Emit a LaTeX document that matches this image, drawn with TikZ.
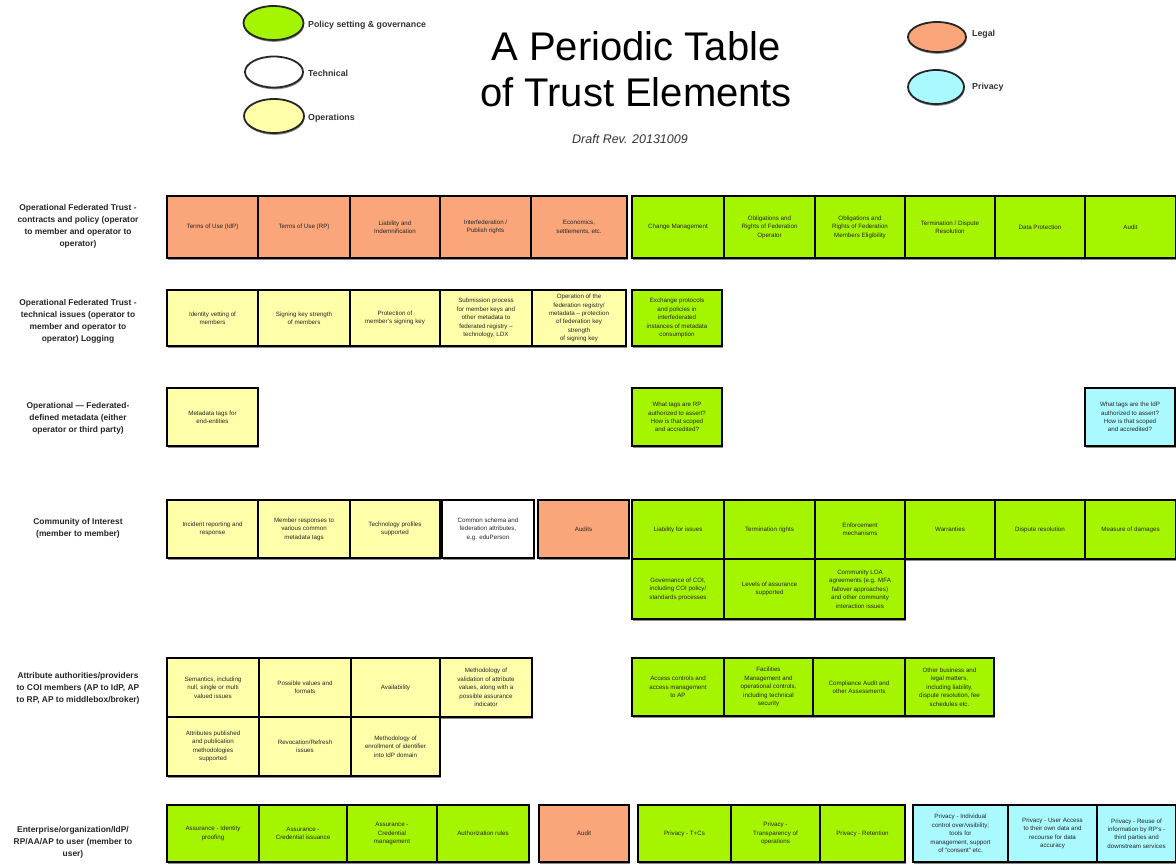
\documentclass[tikz,border=0pt]{standalone}
\usepackage{fontspec}
\setmainfont{Liberation Sans}
\usetikzlibrary{shapes.geometric,shadows}
\definecolor{pgreen}{RGB}{166,245,0}
\definecolor{plegal}{RGB}{250,166,122}
\definecolor{pyellow}{RGB}{255,255,170}
\definecolor{pcyan}{RGB}{170,249,255}
\newcommand\tcell[7]{%
  \pgfmathsetmacro\tcw{#4-#2}%
  \pgfmathsetmacro\tch{#5-#3}%
  \node[cellbox,fill=#6,minimum width=\tcw pt,minimum height=\tch pt] (#1) at ({(#2+#4)/2},{(#3+#5)/2}) {#7};}
\tikzset{
  cellbox/.style={draw=black, line width=1.5pt, inner sep=1pt, align=center,
    font=\fontsize{6.2}{8.4}\selectfont, text=black!85,
    drop shadow={shadow xshift=0.6pt,shadow yshift=-1.8pt,opacity=0.45,fill=black}},
  legendell/.style={ellipse, draw=black!85, line width=1.8pt, minimum width=60pt, minimum height=34pt,
    drop shadow={shadow xshift=0.6pt,shadow yshift=-1.8pt,opacity=0.45,fill=black}},
  legendtxt/.style={anchor=west, inner sep=0pt, font=\bfseries\fontsize{8.8}{10}\selectfont, text=black!80},
  rowlabel/.style={align=center, font=\bfseries\fontsize{8.4}{12}\selectfont, text=black!85}
}
\begin{document}
\begin{tikzpicture}[x=1pt,y=-1pt]
\useasboundingbox[fill=white] (0,0) rectangle (1176,863);
% legend
\node[legendell, fill=pgreen] (lg) at (273.5,23) {};
\node[legendell, fill=white, minimum width=58pt, minimum height=31pt] (lt) at (274,72) {};
\node[legendell, fill=pyellow] (ly) at (274,116) {};
\node[legendtxt] (lgt) at (308,25) {Policy setting \& governance};
\node[legendtxt] (ltt) at (308,73) {Technical};
\node[legendtxt] (lyt) at (308,118) {Operations};
\node[legendell, fill=plegal, minimum width=58pt, minimum height=30pt] (ll) at (937,37) {};
\node[legendell, fill=pcyan, minimum width=56pt, minimum height=34pt] (lp) at (936,87) {};
\node[legendtxt] (llt) at (972,34) {Legal};
\node[legendtxt] (lpt) at (972,87) {Privacy};
% title
\node[align=center, font=\fontsize{40}{46}\selectfont] (title) at (636,69) {A Periodic Table\\of Trust Elements};
\node[font=\itshape\fontsize{12.5}{14}\selectfont, text=black!80] (draft) at (630,139) {Draft Rev. 20131009};
% row labels
\node[rowlabel] (r1) at (78,226) {Operational Federated Trust -\\contracts and policy (operator\\to member and operator to\\operator)};
\node[rowlabel] (r2) at (78,321) {Operational Federated Trust -\\technical issues (operator to\\member and operator to\\operator) Logging};
\node[rowlabel] (r3) at (78,418) {Operational — Federated-\\defined metadata (either\\operator or third party)};
\node[rowlabel] (r4) at (78,528) {Community of Interest\\(member to member)};
\node[rowlabel] (r5) at (78,688) {Attribute authorities/providers\\to COI members (AP to IdP, AP\\to RP, AP to middlebox/broker)};
\node[rowlabel] (r6) at (73,842) {Enterprise/organization/IdP/\\RP/AA/AP to user (member to\\user)};
% row 1
\tcell{a1}{167}{196}{258}{258}{plegal}{Terms of Use (IdP)}
\tcell{a2}{258}{196}{350}{258}{plegal}{Terms of Use (RP)}
\tcell{a3}{350}{196}{440}{258}{plegal}{Liability and\\Indemnification}
\tcell{a4}{440}{196}{531}{258}{plegal}{Interfederation /\\Publish rights}
\tcell{a5}{531}{196}{627}{258}{plegal}{Economics,\\settlements, etc.}
\tcell{a6}{632}{196}{724}{258}{pgreen}{Change Management}
\tcell{a7}{724}{196}{815}{258}{pgreen}{Obligations and\\Rights of Federation\\Operator}
\tcell{a8}{815}{196}{905}{258}{pgreen}{Obligations and\\Rights of Federation\\Members Eligibility}
\tcell{a9}{905}{196}{995}{258}{pgreen}{Termination / Dispute\\Resolution}
\tcell{a10}{995}{196}{1085}{258}{pgreen}{Data Protection}
\tcell{a11}{1085}{196}{1176}{258}{pgreen}{Audit}
% row 2
\tcell{b1}{167}{290}{258}{346}{pyellow}{Identity vetting of\\members}
\tcell{b2}{258}{290}{350}{346}{pyellow}{Signing key strength\\of members}
\tcell{b3}{350}{290}{440}{346}{pyellow}{Protection of\\member's signing key}
\tcell{b4}{440}{290}{532}{346}{pyellow}{Submission process\\for member keys and\\other metadata to\\federated registry –\\technology, LDX}
\tcell{b5}{532}{290}{626}{346}{pyellow}{Operation of the\\federation registry/\\metadata – protection\\of federation key\\strength\\of signing key}
\tcell{b6}{632}{290}{722}{346}{pgreen}{Exchange protocols\\and policies in\\interfederated\\instances of metadata\\consumption}
% row 3
\tcell{c1}{167}{388}{258}{446}{pyellow}{Metadata tags for\\end-entities}
\tcell{c2}{632}{388}{722}{446}{pgreen}{What tags are RP\\authorized to assert?\\How is that scoped\\and accredited?}
\tcell{c3}{1085}{388}{1175}{446}{pcyan}{What tags are the IdP\\authorized to assert?\\How is that scoped\\and accredited?}
% row 4
\tcell{d1}{167}{500}{258}{558}{pyellow}{Incident reporting and\\response}
\tcell{d2}{258}{500}{350}{558}{pyellow}{Member responses to\\various common\\metadata tags}
\tcell{d3}{350}{500}{440}{558}{pyellow}{Technology profiles\\supported}
\tcell{d4}{442}{500}{534}{558}{white}{Common schema and\\federation attributes,\\e.g. eduPerson}
\tcell{d5}{538}{500}{629}{558}{plegal}{Audits}
\tcell{d6}{632}{500}{724}{559}{pgreen}{Liability for issues}
\tcell{d7}{724}{500}{815}{559}{pgreen}{Termination rights}
\tcell{d8}{815}{500}{905}{559}{pgreen}{Enforcement\\mechanisms}
\tcell{d9}{905}{500}{995}{559}{pgreen}{Warranties}
\tcell{d10}{995}{500}{1085}{559}{pgreen}{Dispute resolution}
\tcell{d11}{1085}{500}{1176}{559}{pgreen}{Measure of damages}
\tcell{d12}{632}{559}{724}{619}{pgreen}{Governance of COI,\\including COI policy/\\standards processes}
\tcell{d13}{724}{559}{815}{619}{pgreen}{Levels of assurance\\supported}
\tcell{d14}{815}{559}{905}{619}{pgreen}{Community LOA\\agreements (e.g. MFA\\fallover approaches)\\and other community\\interaction issues}
% row 5
\tcell{e1}{167}{658}{259}{717}{pyellow}{Semantics, including\\null, single or multi\\valued issues}
\tcell{e2}{259}{658}{351}{717}{pyellow}{Possible values and\\formats}
\tcell{e3}{351}{658}{440}{717}{pyellow}{Availability}
\tcell{e4}{440}{658}{532}{717}{pyellow}{Methodology of\\validation of attribute\\values, along with a\\possible assurance\\indicator}
\tcell{e5}{167}{717}{259}{776}{pyellow}{Attributes published\\and publication\\methodologies\\supported}
\tcell{e6}{259}{717}{351}{776}{pyellow}{Revocation/Refresh\\issues}
\tcell{e7}{351}{717}{440}{776}{pyellow}{Methodology of\\enrollment of identifier\\into IdP domain}
\tcell{e8}{632}{658}{724}{716}{pgreen}{Access controls and\\access management\\to AP}
\tcell{e9}{724}{658}{813}{716}{pgreen}{Facilities\\Management and\\operational controls,\\including technical\\security}
\tcell{e10}{813}{658}{905}{716}{pgreen}{Compliance Audit and\\other Assessments}
\tcell{e11}{905}{658}{994}{716}{pgreen}{Other business and\\legal matters,\\including liability,\\dispute resolution, fee\\schedules etc.}
% row 6
\tcell{f1}{167}{805}{259}{862}{pgreen}{Assurance - Identity\\proofing}
\tcell{f2}{259}{805}{347}{862}{pgreen}{Assurance -\\Credential issuance}
\tcell{f3}{347}{805}{437}{862}{pgreen}{Assurance -\\Credential\\management}
\tcell{f4}{437}{805}{529}{862}{pgreen}{Authorization rules}
\tcell{f5}{539}{805}{629}{862}{plegal}{Audit}
\tcell{f6}{638}{805}{731}{862}{pgreen}{Privacy - T+Cs}
\tcell{f7}{731}{805}{820}{862}{pgreen}{Privacy -\\Transparency of\\operations}
\tcell{f8}{820}{805}{905}{862}{pgreen}{Privacy - Retention}
\tcell{f9}{913}{805}{1008}{862}{pcyan}{Privacy - Individual\\control over/visibility;\\tools for\\management, support\\of “consent” etc.}
\tcell{f10}{1008}{805}{1097}{862}{pcyan}{Privacy - User Access\\to their own data and\\recourse for data\\accuracy}
\tcell{f11}{1097}{805}{1176}{862}{pcyan}{Privacy - Reuse of\\information by RP's -\\third parties and\\downstream services}
\end{tikzpicture}
\end{document}
